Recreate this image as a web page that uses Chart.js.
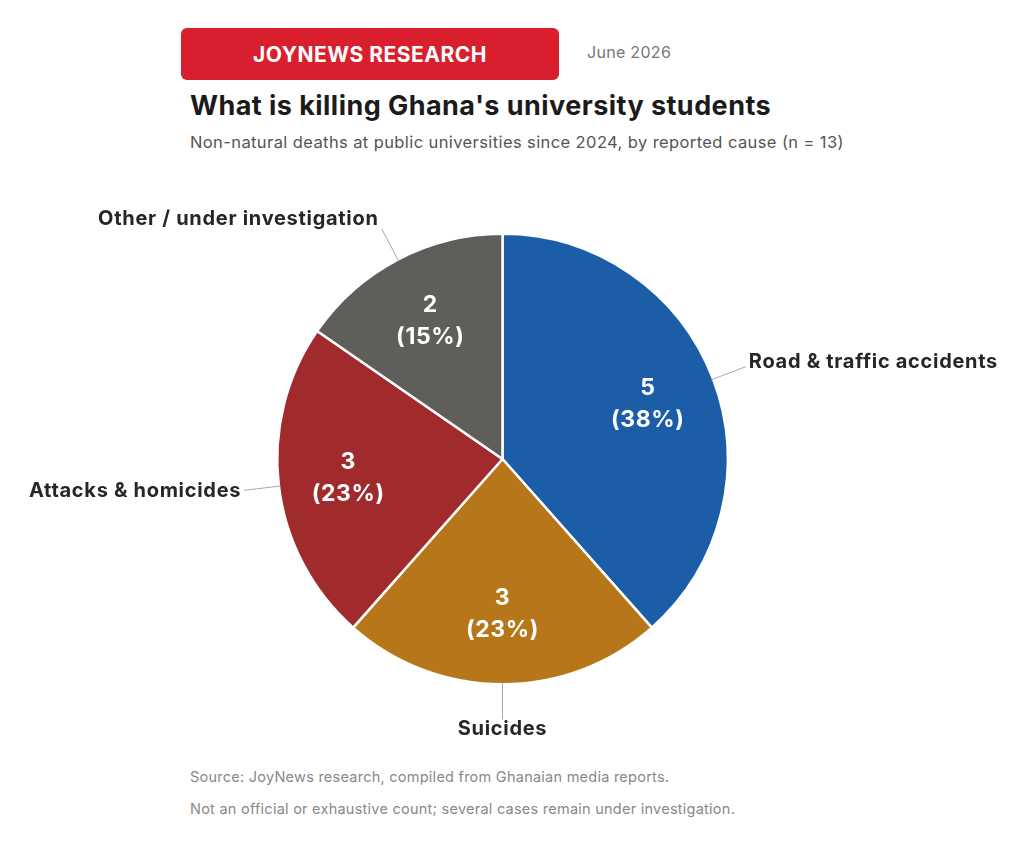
<!DOCTYPE html>
<html>
<head>
<meta charset="utf-8">
<script src="https://cdn.jsdelivr.net/npm/chart.js@4"></script>
<style>
  html, body { margin: 0; padding: 0; background: #fff; }
  body { width: 1024px; height: 855px; position: relative; overflow: hidden; font-family: Inter, "Noto Sans", sans-serif; }
  .badge {
    position: absolute; left: 181px; top: 28px; width: 378px; height: 52px;
    background: #d91f2e; border-radius: 6px; color: #fff;
    font-weight: 700; font-size: 21px; letter-spacing: 0.5px;
    display: flex; align-items: center; justify-content: center;
  }
  .date { position: absolute; left: 587px; top: 42px; font-size: 16px; letter-spacing: 0.3px; color: #777; }
  .title { position: absolute; left: 190px; top: 89px; font-size: 27px; font-weight: 700; letter-spacing: 0.45px; color: #1b1b1b; }
  .sub { position: absolute; left: 190px; top: 132px; font-size: 16.5px; letter-spacing: 0.4px; color: #555; }
  .note { position: absolute; left: 190px; font-size: 14.5px; letter-spacing: 0.25px; color: #888; }
  #chart { position: absolute; left: 0; top: 0; }
</style>
</head>
<body>
<div class="badge">JOYNEWS RESEARCH</div>
<div class="date">June 2026</div>
<div class="title">What is killing Ghana's university students</div>
<div class="sub">Non-natural deaths at public universities since 2024, by reported cause (n = 13)</div>
<div class="note" style="top:768px">Source: JoyNews research, compiled from Ghanaian media reports.</div>
<div class="note" style="top:800px">Not an official or exhaustive count; several cases remain under investigation.</div>
<canvas id="chart" width="1024" height="855"></canvas>
<script>
const causes = ['Road & traffic accidents', 'Suicides', 'Attacks & homicides', 'Other / under investigation'];
const deaths = [5, 3, 3, 2];
const sliceColors = ['#1b5ea7', '#b8761a', '#a12a2d', '#5f5e5a'];

const total = deaths.reduce((a, b) => a + b, 0);

// draws value labels inside slices and category labels outside with leader lines
const pieLabels = {
    id: 'pieLabels',
    afterDatasetsDraw(chart) {
        const ctx = chart.ctx;
        const arcs = chart.getDatasetMeta(0).data;
        arcs.forEach((arc, i) => {
            const { x, y, outerRadius, startAngle, endAngle } = arc.getProps(['x', 'y', 'outerRadius', 'startAngle', 'endAngle'], true);
            const mid = (startAngle + endAngle) / 2;
            const ux = Math.cos(mid), uy = Math.sin(mid);

            // inside value
            const ir = outerRadius * 0.69;
            const pct = Math.round(deaths[i] / total * 100);
            ctx.save();
            ctx.fillStyle = '#fff';
            ctx.font = '700 23px Inter, "Noto Sans", sans-serif';
            ctx.letterSpacing = '0.6px';
            ctx.textAlign = 'center';
            ctx.textBaseline = 'middle';
            ctx.fillText(String(deaths[i]), x + ux * ir, y + uy * ir - 16);
            ctx.fillText(`(${pct}%)`, x + ux * ir, y + uy * ir + 16);

            // leader + outside label
            const ex = x + ux * (outerRadius - 2), ey = y + uy * (outerRadius - 2);
            const px = x + ux * (outerRadius + 35), py = y + uy * (outerRadius + 35);
            ctx.strokeStyle = '#a8a8a8';
            ctx.lineWidth = 1;
            ctx.beginPath();
            ctx.moveTo(ex, ey);
            ctx.lineTo(px, py);
            ctx.stroke();

            ctx.fillStyle = '#262626';
            ctx.font = '700 20px Inter, "Noto Sans", sans-serif';
            ctx.letterSpacing = '0.7px';
            if (Math.abs(ux) > 0.3) {
                ctx.textAlign = ux > 0 ? 'left' : 'right';
                ctx.textBaseline = 'middle';
                ctx.fillText(causes[i], px + (ux > 0 ? 3 : -3), py - 1 + 10 * uy);
            } else {
                ctx.textAlign = 'center';
                ctx.textBaseline = uy > 0 ? 'top' : 'bottom';
                ctx.fillText(causes[i], px, py + (uy > 0 ? 0 : -4));
            }
            ctx.restore();
        });
    }
};

new Chart(document.getElementById('chart'), {
    type: 'pie',
    data: {
        labels: causes,
        datasets: [{
            data: deaths,
            backgroundColor: sliceColors,
            borderColor: '#fff',
            borderWidth: 2.5
        }]
    },
    options: {
        responsive: false,
        animation: false,
        layout: { padding: { left: 276, right: 295, top: 232, bottom: 169 } },
        plugins: {
            legend: { display: false },
            tooltip: { enabled: false }
        }
    },
    plugins: [pieLabels]
});
</script>
</body>
</html>
